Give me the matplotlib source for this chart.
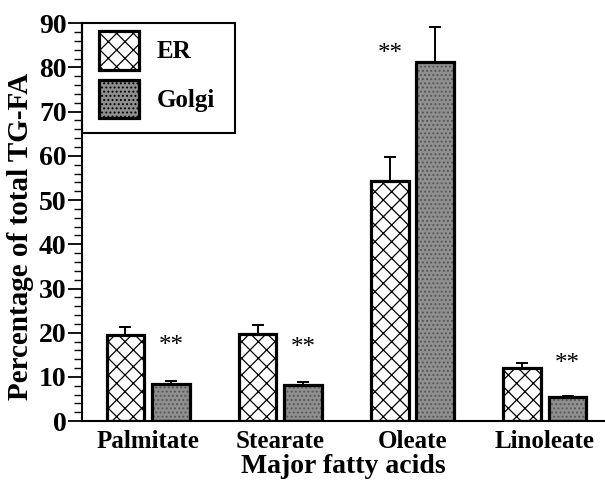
import numpy as np
import matplotlib
matplotlib.use("Agg")
import matplotlib.pyplot as plt
from matplotlib.patches import Patch, Rectangle

# data
acids = ["Palmitate", "Stearate", "Oleate", "Linoleate"]
er = [19.5, 19.7, 54.4, 12.0]
er_err = [1.9, 2.0, 5.4, 1.1]
golgi = [8.4, 8.2, 81.2, 5.4]
golgi_err = [0.7, 0.7, 8.0, 0.35]
# where the ** marks sit (which bar, height)
star_bar = ["golgi", "golgi", "er", "golgi"]
star_y = [17.0, 16.5, 83.0, 13.0]

plt.rcParams["font.family"] = ["Liberation Serif", "DejaVu Serif"]
plt.rcParams["font.weight"] = "bold"
plt.rcParams["hatch.linewidth"] = 0.9

fig = plt.figure(figsize=(6.05, 4.83), dpi=100)
ax = fig.add_axes([0.1355, 0.128, 0.8645, 0.824])

x = np.arange(len(acids))
w = 0.285
off = 0.172
gray = "#8f8f8f"

# ER bars: white with cross hatch
ax.bar(x - off, er, w, color="white", edgecolor="black", hatch="xx", linewidth=0, zorder=2)
ax.bar(x - off, er, w, fill=False, edgecolor="black", linewidth=2.3, zorder=3)
# Golgi bars: stippled gray
ax.bar(x + off, golgi, w, color=gray, edgecolor="#555555", hatch="....", linewidth=0, zorder=2)
ax.bar(x + off, golgi, w, fill=False, edgecolor="black", linewidth=2.3, zorder=3)

# error bars only upward
ax.errorbar(x - off, er, yerr=[np.zeros(len(er)), er_err], fmt="none", ecolor="black",
            elinewidth=1.4, capsize=4, capthick=1.4, zorder=1)
ax.errorbar(x + off, golgi, yerr=[np.zeros(len(golgi)), golgi_err], fmt="none", ecolor="black",
            elinewidth=1.4, capsize=4, capthick=1.4, zorder=1)

for i, (b, sy) in enumerate(zip(star_bar, star_y)):
    sx = x[i] + off if b == "golgi" else x[i] - off
    ax.text(sx, sy, "**", ha="center", va="center", fontsize=18, fontweight="normal")

ax.set_xlim(-0.5, 3.455)
ax.set_ylim(0, 90)
ax.set_yticks(np.arange(0, 91, 10))
ax.set_yticks(np.arange(0, 91, 2), minor=True)
ax.tick_params(axis="y", which="major", length=10, width=1.3, labelsize=20, pad=1)
ax.tick_params(axis="y", which="minor", length=6, width=1.0)
ax.set_xticks(x)
ax.set_xticklabels(acids, fontsize=18)
ax.tick_params(axis="x", length=0, pad=6)

for s in ["top", "right"]:
    ax.spines[s].set_visible(False)
ax.spines["left"].set_linewidth(1.5)
ax.spines["bottom"].set_linewidth(1.5)

ax.set_xlabel("Major fatty acids", fontsize=20, fontweight="bold", labelpad=1)
ax.set_ylabel("Percentage of total TG-FA", fontsize=21, fontweight="bold")
ax.yaxis.set_label_coords(-0.092, 0.465)

# legend box drawn by hand so the padding matches
ax.add_patch(Rectangle((0, 0.7236), 0.2925, 0.2764, transform=ax.transAxes, fill=False,
                       edgecolor="black", linewidth=1.5, clip_on=False, zorder=5))
handles = [Patch(facecolor="white", edgecolor="black", hatch="xx", linewidth=2.3),
           Patch(facecolor=gray, edgecolor="black", hatch="....", linewidth=2.3)]
leg = ax.legend(handles, ["ER", "Golgi"], loc="upper left", bbox_to_anchor=(0.0325, 0.98),
                borderaxespad=0, borderpad=0, frameon=False, fontsize=18, handlelength=1.6,
                handleheight=2.0, labelspacing=0.4, handletextpad=0.7)

fig.savefig("out.png", dpi=100)
